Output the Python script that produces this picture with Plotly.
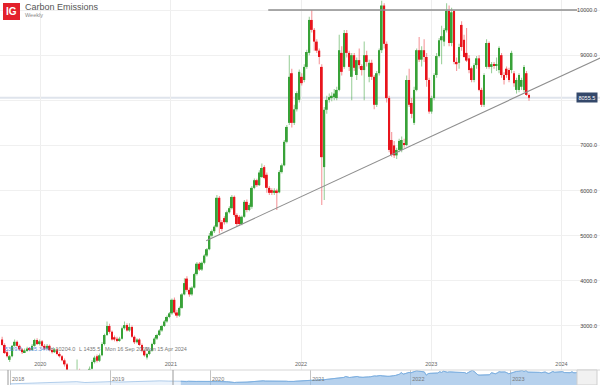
import pandas as pd
import plotly.graph_objects as go

# ---------------- data ----------------
week_start = "2019-09-16"
opens = [2700,2580,2420,2250,2330,2560,2650,2560,2480,2420,2460,2500,2470,2560,2690,2600,2660,2560,2500,2560,
         2470,2420,2480,2380,2330,2240,2150,1900,1600,1700,1820,1950,1900,1850,1920,1970,2050,2200,2330,2230,
         2350,2600,2800,3000,2870,2750,2720,2680,2720,2950,3020,2900,2980,2760,2640,2700,2580,2450,2300,2380,
         2450,2600,2720,2800,2900,3000,3100,3200,3280,3580,3300,3230,3400,3700,4050,3800,3700,3850,4150,4380,
         4250,4400,4560,4700,5000,5100,5200,5840,5300,5390,5300,5520,5610,5860,5460,5420,5260,5420,5750,5570,
         5640,6060,6230,6120,6300,6520,6350,6060,6010,5950,6000,5960,6410,6560,7080,7500,8600,7500,7800,8010,
         8520,8450,8740,9050,9780,9560,9300,9100,8740,6520,7790,8010,8050,8070,8050,8230,9050,8740,9490,9050,
         8520,9000,8560,8890,8760,8670,9000,8520,8830,8520,7900,8600,9110,10100,9250,8050,7120,7000,6780,6900,
         6900,7050,7010,8450,7940,7500,8230,9110,8900,9110,8960,8450,7750,8050,8560,8980,9330,9300,9550,9980,
         9270,9980,8850,8830,9670,9340,9050,8930,8710,8450,8780,8930,8230,7900,8740,9270,8740,8800,8760,8670,
         9000,8560,8700,8670,8670,8600,8230,8230,8300,8230,8600,8120]
highs = [2760,2620,2460,2360,2580,2700,2680,2590,2510,2500,2540,2530,2600,2720,2730,2700,2690,2600,2600,2590,
         2500,2510,2500,2420,2360,2280,2180,1950,1750,1900,2260,2050,1960,1980,2010,2100,2240,2340,2370,2390,
         2640,2830,3100,3050,2900,2790,2760,2760,2990,3100,3060,3060,3010,2790,2730,2730,2610,2480,2400,2480,
         2630,2750,2830,2930,3030,3130,3230,3310,3610,3630,3360,3430,3730,4060,4100,3850,3880,4180,4420,4420,
         4430,4590,4730,5060,5140,5230,5900,5880,5350,5430,5560,5650,5900,5890,5500,5460,5450,5790,5800,5720,
         6100,6270,6260,6450,6600,6560,6400,6100,6050,6050,6040,6450,6600,7120,7450,9000,8700,7900,8200,8680,
         8600,8800,9120,9850,10000,9600,9350,9150,8800,7850,8100,8150,8180,8250,8300,9450,9200,9560,9560,9100,
         9050,9050,8950,9150,8800,9300,9100,8900,8900,8560,8650,9150,10204,10150,9300,8100,7300,7100,6950,7150,
         7200,7150,8550,8700,8050,8300,9150,9400,9200,9350,9050,8500,8100,8600,9050,9380,9650,9600,10150,10100,
         10050,10000,8950,9250,9750,9450,9600,9000,8750,8820,8980,9000,8280,8600,9350,9300,8850,8850,8950,9200,
         9050,8620,8750,8720,9100,8650,8500,8600,8500,8780,8650,8150]
lows = [2560,2380,2300,2200,2310,2540,2540,2450,2380,2400,2430,2440,2450,2540,2580,2570,2530,2470,2480,2440,
        2390,2400,2350,2300,2220,2100,1800,1436,1550,1650,1800,1850,1800,1820,1880,1940,2030,2170,2190,2200,
        2330,2570,2780,2830,2680,2660,2640,2650,2700,2920,2880,2870,2740,2600,2610,2560,2420,2320,2260,2350,
        2430,2580,2690,2780,2870,2980,3070,3170,3250,3270,3180,3200,3380,3680,3760,3650,3670,3830,4120,4220,
        4220,4370,4530,4680,4960,5060,5180,5050,5100,5250,5270,5490,5580,5420,5200,5220,5230,5400,5520,5540,
        5600,6030,6080,6100,6280,6250,5950,5900,5900,5900,5570,5940,6380,6540,7050,7450,7400,7450,7750,7950,
        8330,8400,8700,9000,9500,9100,9050,8800,5680,5790,7700,7950,7980,8000,8000,8200,8550,8700,8950,8650,
        8000,8650,8450,8700,8550,8000,8750,8400,8450,7800,7850,8550,9050,9150,7950,6850,6750,6720,6700,6850,
        6850,6950,6980,7850,7600,7450,8200,8850,8750,8850,8300,7700,7700,8000,8500,8950,8800,9200,9500,9200,
        9200,8800,8650,8700,9100,8950,8850,8600,8400,8400,8700,8200,7850,7850,8700,8700,8600,8700,8650,8600,
        8500,8350,8500,8400,8600,8300,8150,8180,8230,8180,8100,7990]
closes = [2580,2400,2330,2330,2560,2650,2560,2480,2420,2460,2500,2470,2560,2690,2600,2660,2560,2500,2560,2470,
          2420,2480,2380,2330,2240,2150,1900,1600,1700,1820,1950,1900,1850,1920,1970,2050,2200,2300,2230,2350,
          2600,2800,3000,2870,2700,2700,2680,2720,2950,3020,2900,2980,2760,2640,2700,2580,2450,2350,2380,2450,
          2600,2720,2800,2900,3000,3100,3200,3280,3580,3300,3230,3400,3700,3950,3800,3700,3850,4150,4380,4250,
          4400,4560,4700,5000,5100,5200,5840,5300,5150,5300,5520,5610,5860,5460,5260,5260,5420,5750,5570,5680,
          6060,6230,6120,6400,6500,6280,6060,5950,5950,6000,5960,6410,6560,7080,7410,8520,7500,7800,8160,8630,
          8380,8740,9070,9780,9560,9300,9100,8960,6740,7790,8010,8070,8100,8150,8230,9110,8630,9490,9050,8740,
          9000,8720,8890,8780,8670,9000,8850,8830,8520,7900,8600,9110,10100,9250,8050,6900,6790,6780,6900,7100,
          7120,7010,8450,7900,7700,8230,9110,8900,9110,8960,8450,7750,8050,8560,8980,9330,9420,9560,9980,9270,
          9950,8850,8800,9180,9180,8960,8880,8670,8450,8780,8930,8230,7900,8560,9270,8740,8800,8760,8800,9160,
          8560,8450,8560,8450,9050,8380,8450,8560,8450,8740,8120,8055.5]

# navigator history before the displayed window (monthly)
nav_months = ["2018-01-01","2018-02-01","2018-03-01","2018-04-01","2018-05-01","2018-06-01","2018-07-01",
              "2018-08-01","2018-09-01","2018-10-01","2018-11-01","2018-12-01","2019-01-01","2019-02-01",
              "2019-03-01","2019-04-01","2019-05-01","2019-06-01","2019-07-01","2019-08-01","2019-09-09"]
nav_hist = [800,950,1300,1300,1550,1550,1700,2000,2300,1700,2000,2400,2300,2000,2150,2600,2500,2600,2850,2700,2700]

y_ticks = [3000, 4000, 5000, 6000, 7000, 8000, 9000, 10000]
y_tick_text = ["3000.0", "4000.0", "5000.0", "6000.0", "7000.0", "", "9000.0", "10000.0"]
year_ticks = ["2020-01-01", "2021-01-01", "2022-01-01", "2023-01-01", "2024-01-01"]
year_text = ["2020", "2021", "2022", "2023", "2024"]
nav_ticks = ["2018-01-01", "2019-01-01", "2020-01-01", "2021-01-01", "2022-01-01", "2023-01-01"]
nav_text = ["2018", "2019", "2020", "2021", "2022", "2023"]

last_price = 8055.5
resistance = 10000
resistance_dates = ["2021-10-01", "2024-02-14"]
trend_dates = ["2021-04-10", "2024-04-19"]
trend_vals = [4890, 8940]
info_items = [("5309.0", "#5b8ed6"), ("105.34%", "#5b8ed6"), ("H 10204.0", "#777"),
              ("L 1435.5", "#777"), ("Mon 16 Sep 2019", "#777"), ("Mon 15 Apr 2024", "#777")]
info_x = [3, 26, 48, 77, 103, 143]

# ---------------- figure ----------------
W, H = 600, 385
FONT = "Liberation Sans, Arial, sans-serif"
dates = pd.date_range(week_start, periods=len(closes), freq="7D")
DAY = 86400000

up = [c >= o for o, c in zip(opens, closes)]
body_col = ["#38a238" if u else "#e8141c" for u in up]
wick_col = ["rgba(56,162,56,0.5)" if u else "rgba(232,20,28,0.45)" for u in up]
body_base = [min(o, c) for o, c in zip(opens, closes)]
body_h = [max(abs(c - o), 25) for o, c in zip(opens, closes)]
wick_base = lows
wick_h = [h - l for h, l in zip(highs, lows)]

fig = go.Figure()
fig.add_trace(go.Bar(x=dates, y=wick_h, base=wick_base, width=3.0 * DAY,
                     marker=dict(color=wick_col, line=dict(width=0)), xaxis="x", yaxis="y"))
fig.add_trace(go.Bar(x=dates, y=body_h, base=body_base, width=5.4 * DAY,
                     marker=dict(color=body_col, line=dict(width=0)), xaxis="x", yaxis="y"))

# navigator
fig.add_trace(go.Scatter(x=nav_months + list(dates), y=nav_hist + closes, mode="lines",
                         line=dict(color="rgba(120,170,220,0.55)", width=1),
                         fill="tozeroy", fillcolor="rgba(200,222,243,0.35)", xaxis="x2", yaxis="y2"))
fig.add_trace(go.Scatter(x=list(dates), y=closes, mode="lines",
                         line=dict(color="#7eb0e0", width=1),
                         fill="tozeroy", fillcolor="rgba(128,176,224,0.5)", xaxis="x2", yaxis="y2"))

nav_top = 15 / H
shapes = [
    dict(type="line", xref="paper", yref="y", x0=0, x1=1, y0=last_price, y1=last_price,
         line=dict(color="#dfe4ec", width=2), layer="below"),
    dict(type="line", xref="x", yref="y", x0=resistance_dates[0], x1=resistance_dates[1],
         y0=resistance, y1=resistance, line=dict(color="#8e8e8e", width=1.3)),
    dict(type="line", xref="x", yref="y", x0=trend_dates[0], x1=trend_dates[1],
         y0=trend_vals[0], y1=trend_vals[1], line=dict(color="#8e8e8e", width=1.1)),
    dict(type="line", xref="paper", yref="paper", x0=0, x1=1, y0=nav_top, y1=nav_top,
         line=dict(color="#d6d6d6", width=1)),
    dict(type="rect", xref="paper", yref="paper", x0=577 / W, x1=597 / W, y0=0, y1=nav_top,
         fillcolor="#f1f1f1", line=dict(color="#cfcfcf", width=1)),
    dict(type="line", xref="paper", yref="paper", x0=173 / W, x1=173 / W, y0=0, y1=nav_top,
         line=dict(color="#9a9a9a", width=1)),
    dict(type="line", xref="paper", yref="paper", x0=8 / W, x1=8 / W, y0=0, y1=nav_top,
         line=dict(color="#9a9a9a", width=1)),
    dict(type="rect", xref="paper", yref="paper", x0=3 / W, x1=20 / W, y0=1 - 20 / H, y1=1 - 3 / H,
         fillcolor="#e3212b", line=dict(width=0)),
]

annotations = [
    dict(xref="paper", yref="paper", x=11.5 / W, y=1 - 11.5 / H, text="<b>IG</b>", showarrow=False,
         font=dict(family=FONT, size=10, color="white"), xanchor="center", yanchor="middle"),
    dict(xref="paper", yref="paper", x=23 / W, y=1 - 7.5 / H, text="Carbon Emissions", showarrow=False,
         font=dict(family=FONT, size=9, color="#555"), xanchor="left", yanchor="middle"),
    dict(xref="paper", yref="paper", x=23 / W, y=1 - 15.5 / H, text="Weekly", showarrow=False,
         font=dict(family=FONT, size=5.5, color="#888"), xanchor="left", yanchor="middle"),
    dict(xref="paper", yref="y", x=598 / W, y=last_price, text=f"{last_price:.1f}", showarrow=False,
         font=dict(family=FONT, size=5.5, color="white"), bgcolor="#34486a", borderpad=1.5,
         xanchor="right", yanchor="middle"),
]
for (txt, col), xp in zip(info_items, info_x):
    annotations.append(dict(xref="paper", yref="paper", x=xp / W, y=1 - 349 / H, text=txt,
                            showarrow=False, font=dict(family=FONT, size=5.5, color=col),
                            xanchor="left", yanchor="middle"))

fig.update_layout(
    width=W, height=H, margin=dict(l=0, r=0, t=0, b=0),
    paper_bgcolor="white", plot_bgcolor="white", showlegend=False,
    barmode="overlay", font=dict(family=FONT),
    shapes=shapes, annotations=annotations,
    xaxis=dict(type="date", domain=[0, 1], anchor="y", range=["2019-09-10", "2024-04-18"],
               tickvals=year_ticks, ticktext=year_text, ticklabelposition="inside",
               tickfont=dict(size=5.5, color="#666"), showgrid=True, gridcolor="#eeeeee",
               zeroline=False, showline=False, ticks=""),
    yaxis=dict(domain=[nav_top, 1], anchor="x", range=[2025, 10222], side="right",
               tickvals=y_ticks, ticktext=y_tick_text, ticklabelposition="inside",
               tickfont=dict(size=5.5, color="#444"), showgrid=True, gridcolor="#f0f0f0",
               zeroline=False, showline=False, ticks=""),
    xaxis2=dict(type="date", domain=[0, 598 / W], anchor="y2", range=["2017-11-25", "2023-11-17"],
                tickvals=nav_ticks, ticktext=nav_text, ticklabelposition="inside", ticklabelshift=8,
                tickfont=dict(size=5.5, color="#777"), showgrid=True, gridcolor="#c4c4c4",
                zeroline=False, showline=False, ticks=""),
    yaxis2=dict(domain=[0, nav_top], anchor="x2", range=[0, 10300], visible=False),
)

fig.write_html("out.html")
